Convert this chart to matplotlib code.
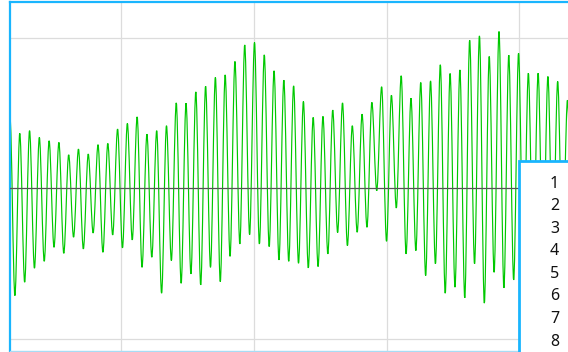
import matplotlib
matplotlib.use("Agg")
import matplotlib.pyplot as plt
from matplotlib.patches import Rectangle, PathPatch
from matplotlib.path import Path

# Alternating peak / trough samples of the recorded signal (half-cycle spacing)
signal = [
    0.469, -0.715, 0.363, -0.626, 0.381, -0.533, 0.336, -0.487,
    0.314, -0.394, 0.303, -0.434, 0.221, -0.327, 0.259, -0.405,
    0.226, -0.299, 0.288, -0.427, 0.296, -0.312, 0.392, -0.398,
    0.429, -0.345, 0.473, -0.527, 0.358, -0.460, 0.381, -0.699,
    0.414, -0.482, 0.566, -0.633, 0.564, -0.571, 0.639, -0.644,
    0.677, -0.527, 0.735, -0.622, 0.752, -0.454, 0.841, -0.372,
    0.951, -0.310, 0.967, -0.372, 0.885, -0.389, 0.779, -0.478,
    0.717, -0.487, 0.679, -0.500, 0.575, -0.531, 0.469, -0.522,
    0.476, -0.438, 0.518, -0.296, 0.566, -0.383, 0.414, -0.294,
    0.491, -0.261, 0.569, -0.018, 0.673, -0.354, 0.617, -0.133,
    0.746, -0.438, 0.597, -0.416, 0.701, -0.582, 0.712, -0.504,
    0.819, -0.699, 0.761, -0.659, 0.785, -0.730, 0.982, -0.504,
    1.011, -0.765, 0.874, -0.560, 1.040, -0.664, 0.883, -0.611,
    0.896, -0.550, 0.763, -0.500, 0.763, -0.500, 0.741, -0.450,
    0.708, -0.450, 0.584, -0.400, 0.650,
]
sample_index = list(range(len(signal)))
legend_labels = ["1", "2", "3", "4", "5", "6", "7", "8"]

W, H = 568, 352
fig = plt.figure(figsize=(W / 100, H / 100), dpi=100)
fig.patch.set_facecolor("white")

# axes box in pixel units (top-left origin)
ax_left, ax_right, ax_top, ax_bottom = 9.5, 620.0, 2.0, 351.0
ax = fig.add_axes([ax_left / W, (H - ax_bottom) / H,
                   (ax_right - ax_left) / W, (ax_bottom - ax_top) / H])

px_per_sample = 4.89
x0_px = 10.0
ax.set_xlim(-(x0_px - ax_left) / px_per_sample,
            (ax_right - x0_px) / px_per_sample)
ax.set_ylim(-1.083, 1.236)

# grid
grid_px = [121, 254, 387, 519]
for gx in grid_px:
    ax.axvline((gx - x0_px) / px_per_sample, color="#dcdcdc", lw=0.9, zorder=0)
for gy in (-1.0, 1.0):
    ax.axhline(gy, color="#dcdcdc", lw=0.9, zorder=0)

# smooth trace: cubic segments with flat tangents at every extremum
verts = [(sample_index[0], signal[0])]
codes = [Path.MOVETO]
for i in range(1, len(signal)):
    xa, ya = sample_index[i - 1], signal[i - 1]
    xb, yb = sample_index[i], signal[i]
    d = (xb - xa) / 3.0
    verts += [(xa + d, ya), (xb - d, yb), (xb, yb)]
    codes += [Path.CURVE4] * 3
trace = PathPatch(Path(verts, codes), facecolor="none", edgecolor="#00c800",
                  lw=0.85, zorder=2)
ax.add_patch(trace)

ax.axhline(0.0, color="#555555", lw=0.9, zorder=3)

ax.set_xticks([])
ax.set_yticks([])
for side in ("left", "top"):
    ax.spines[side].set_color("#19b5fe")
    ax.spines[side].set_linewidth(1.6)
ax.spines["bottom"].set_color("#a8dcf5")
ax.spines["bottom"].set_linewidth(1.0)
ax.spines["right"].set_visible(False)

# legend panel
lx0, ly0 = 518.5, 160.5
box = Rectangle((lx0 / W, (H - 420) / H), (620 - lx0) / W, (420 - ly0) / H,
                transform=fig.transFigure, facecolor="white",
                edgecolor="#19b5fe", lw=2.0, zorder=10)
fig.patches.append(box)
for k, lab in enumerate(legend_labels):
    y = 183.5 + 22.6 * k
    fig.text(554.5 / W, (H - y) / H, lab, ha="center", va="center",
             fontsize=11.5, family="Noto Sans", color="#111111", zorder=11)

fig.savefig("out.png", dpi=100)
